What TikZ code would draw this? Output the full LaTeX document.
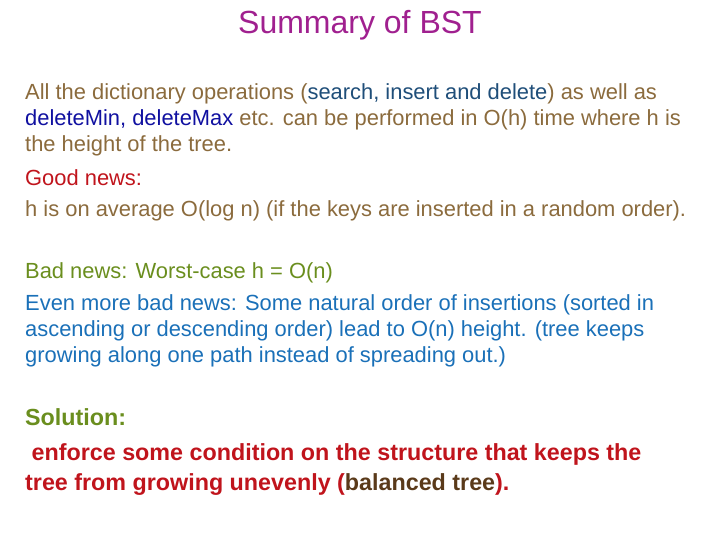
\documentclass[tikz,border=0pt]{standalone}
\usepackage{fontspec}
\setmainfont{Liberation Sans}
\definecolor{ttl}{HTML}{A0208F}
\definecolor{brn}{HTML}{8B6B3D}
\definecolor{teal}{HTML}{1F4E79}
\definecolor{dblue}{HTML}{1010A0}
\definecolor{gred}{HTML}{C0141C}
\definecolor{olive}{HTML}{6A8E1E}
\definecolor{sky}{HTML}{1A70B8}
\definecolor{dbrn}{HTML}{5A3A1A}
\tikzset{ln/.style={anchor=base west,inner sep=0pt,font=\fontsize{21.9}{25}\selectfont},
bl/.style={anchor=base west,inner sep=0pt,font=\fontsize{23.3}{26}\selectfont\bfseries}}
\begin{document}
\begin{tikzpicture}[x=1pt,y=-1pt]
\useasboundingbox (0,0) rectangle (720,540);
\node[anchor=base,inner sep=0pt,text=ttl,font=\fontsize{32}{34}\selectfont] (t) at (360,34) {Summary of BST};
\node[ln,text=brn] (l1) at (25,100) {All the dictionary operations (\textcolor{teal}{search, insert and delete}) as well as};
\node[ln,text=brn] (l2) at (25,126) {\textcolor{dblue}{deleteMin, deleteMax} etc. can be performed in O(h) time where h is};
\node[ln,text=brn] (l3) at (25,152) {the height of the tree.};
\node[ln,text=gred] (l4) at (25,186) {Good news:};
\node[ln,text=brn] (l5) at (25,216) {h is on average O(log n) (if the keys are inserted in a random order).};
\node[ln,text=olive] (l6) at (25,278) {Bad news: Worst-case h = O(n)};
\node[ln,text=sky] (l7) at (25,310) {Even more bad news: Some natural order of insertions (sorted in};
\node[ln,text=sky] (l8) at (25,336) {ascending or descending order) lead to O(n) height. (tree keeps};
\node[ln,text=sky] (l9) at (25,362) {growing along one path instead of spreading out.)};
\node[bl,text=olive] (l10) at (25,425) {Solution:};
\node[bl,text=gred] (l11) at (25,460) {\ enforce some condition on the structure that keeps the};
\node[bl,text=gred] (l12) at (25,490) {tree from growing unevenly (\textcolor{dbrn}{balanced tree}).};
\end{tikzpicture}
\end{document}
